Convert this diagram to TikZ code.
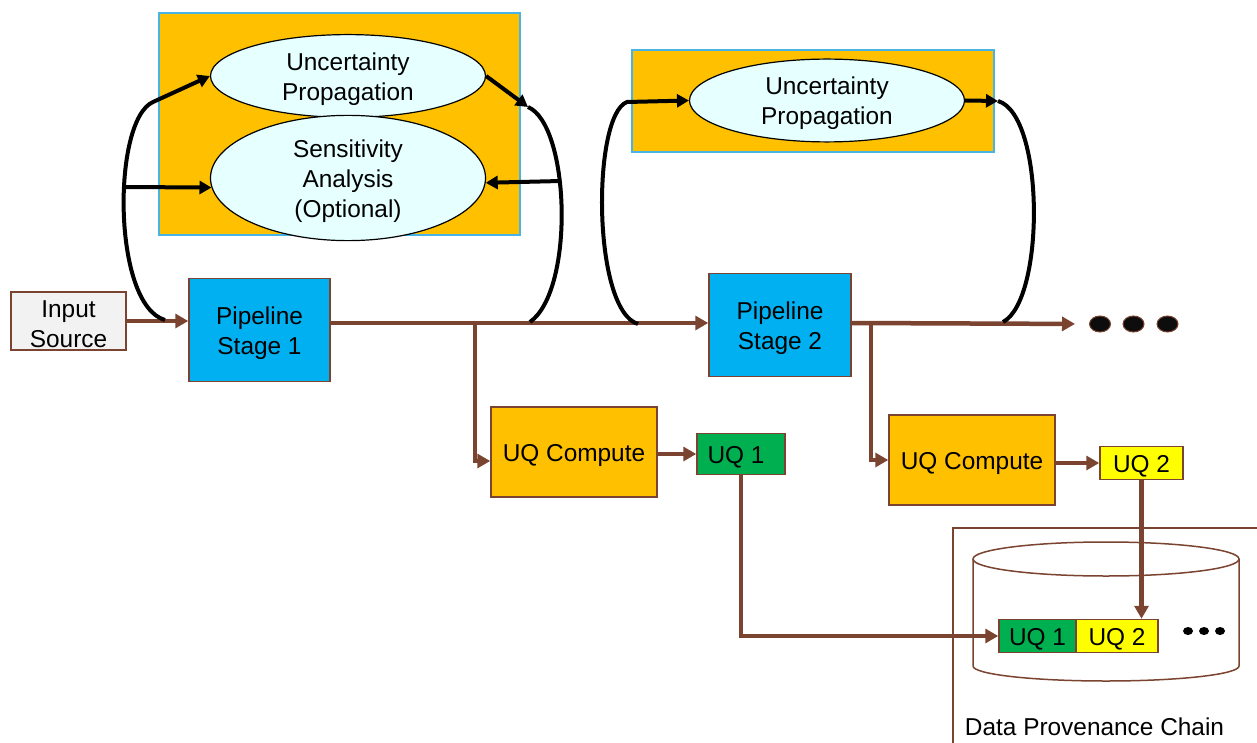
\documentclass[tikz,border=0pt]{standalone}
\usepackage{fontspec}
\setmainfont{Liberation Sans}
\usetikzlibrary{shapes.geometric,arrows.meta,calc}
\definecolor{brn}{RGB}{122,68,48}
\definecolor{gold}{HTML}{FFC000}
\definecolor{sky}{HTML}{00B0F0}
\definecolor{ice}{HTML}{E6FFFF}
\definecolor{leaf}{HTML}{00B050}
\definecolor{lemon}{HTML}{FFFF00}
\definecolor{paper}{HTML}{F2F2F2}
\definecolor{edgeblue}{RGB}{70,180,230}
% extra head room on the first text line of a node
\newcommand{\hdstrut}{\rule{0pt}{23.5pt}}
\begin{document}
\begin{tikzpicture}[x=1pt,y=1pt,
  every node/.style={font=\fontsize{24.4}{30}\selectfont, align=center, inner sep=0pt},
  box/.style={draw=brn, line width=1.5pt, rectangle},
  group/.style={draw=edgeblue, fill=gold, line width=1.5pt, rectangle},
  oval/.style={draw=black, fill=ice, ellipse, line width=1.2pt},
  flow/.style={draw=brn, line width=4.5pt, -{Triangle[length=13pt,width=14pt]}},
  loop/.style={draw=black, line width=4pt},
  loopar/.style={loop, -{Triangle[length=12pt,width=13pt]}},
  thin/.style={draw=brn, line width=1.5pt},
  bigdot/.style={ellipse, fill=black!95, draw=brn, line width=1pt, minimum width=21pt, minimum height=16pt},
  smalldot/.style={ellipse, fill=black, minimum width=10pt, minimum height=8pt},
]
\useasboundingbox (0,0) rectangle (1257,-743);

% grouping panels with the analysis ellipses
\node[group, minimum width=361pt, minimum height=222pt] (G1) at (339.5,-124) {};
\node[group, minimum width=362pt, minimum height=102pt] (G2) at (813,-101) {};
\node[oval, minimum width=275pt, minimum height=74pt] (UP1) at (348,-76) {\hdstrut Uncertainty\\Propagation};
\node[oval, minimum width=275pt, minimum height=96pt] (SA) at (348,-178) {\hdstrut Sensitivity\\Analysis\\(Optional)};
\node[oval, minimum width=275pt, minimum height=75pt] (UP2) at (827,-100.5) {\hdstrut Uncertainty\\Propagation};

% pipeline blocks
\node[box, fill=paper, minimum width=115pt, minimum height=58pt] (IS) at (68.5,-321) {\hdstrut Input\\Source};
\node[box, fill=sky, minimum width=141pt, minimum height=103pt] (P1) at (259.5,-330) {\hdstrut Pipeline\\Stage 1};
\node[box, fill=sky, minimum width=142pt, minimum height=103pt] (P2) at (780,-325) {\hdstrut Pipeline\\Stage 2};
\node[box, fill=gold, minimum width=166pt, minimum height=90pt] (UQC1) at (574,-452) {\hdstrut UQ Compute};
\node[box, fill=leaf, minimum width=88pt, minimum height=41pt] (UQ1) at (741,-454) {\hdstrut UQ 1\hspace{10pt}};
\node[box, fill=gold, minimum width=166pt, minimum height=90pt] (UQC2) at (972,-460) {\hdstrut UQ Compute};
\node[box, fill=lemon, minimum width=83pt, minimum height=33pt] (UQ2) at (1141.5,-463) {\hdstrut UQ 2};

% continuation dots
\node[bigdot] (d1) at (1100,-324) {};
\node[bigdot] (d2) at (1133.5,-324) {};
\node[bigdot] (d3) at (1167.5,-324) {};

% provenance store
\draw[thin] (953,-743) -- (953,-528) -- (1257,-528);
\draw[thin, fill=white] (973,-559) -- (973,-666) arc[start angle=180, end angle=360, x radius=133, y radius=15] -- (1239,-559);
\draw[thin] (1106,-559) ellipse [x radius=133, y radius=17];
\node[box, fill=leaf, minimum width=77pt, minimum height=33pt] (CQ1) at (1037.5,-636) {\hdstrut UQ 1};
\node[box, fill=lemon, minimum width=82pt, minimum height=33pt] (CQ2) at (1117,-636) {\hdstrut UQ 2};
\node[smalldot] (s1) at (1188,-631) {};
\node[smalldot] (s2) at (1204,-631) {};
\node[smalldot] (s3) at (1220,-631) {};
\node (DPC) at (1094.5,-727) {Data Provenance Chain};

% main data flow
\coordinate (m) at (0,-323);
\coordinate (b1) at (475,-323);
\coordinate (b2) at (871,-323);
\draw[flow] (IS.east) -- (IS.east -| P1.west);
\draw[flow] (P1.east |- m) -- (P2.west |- m);
\draw[flow, shorten >=14pt] (P2.east |- m) -- (d1.west);
\draw[flow] (b1) |- ($(UQC1.west)+(0,-9)$);
\draw[flow] (UQ1.west -| UQC1.east) -- (UQ1.west);
\draw[flow] (UQ1.south) |- (CQ1.west);
\draw[flow] (b2) |- (UQC2.west);
\draw[flow] (UQ2.west -| UQC2.east) -- (UQ2.west);
\draw[flow] (UQ2.south) -- (UQ2.south |- CQ2.north);

% feedback loops around stage 1
\coordinate (la) at (165,-320);
\coordinate (lt) at (153,-102);
\coordinate (lj) at (125,-187);
\draw[loopar] (la) .. controls (112,-305) and (112,-120) .. (lt) -- (UP1.west);
\draw[loopar] (lj) -- (SA.184);
\coordinate (ra) at (528,-107);
\coordinate (rb) at (530,-322);
\coordinate (rj) at (561,-181);
\draw[loopar] (UP1.east) -- (ra);
\draw[loop] (ra) .. controls (570,-125) and (575,-290) .. (rb);
\draw[loopar] (rj) -- (SA.358);

% feedback loops around stage 2
\coordinate (lc) at (638,-324);
\coordinate (lu) at (627,-102);
\draw[loopar] (lc) .. controls (592,-310) and (592,-115) .. (lu) -- (UP2.west);
\coordinate (rc) at (998,-101);
\coordinate (rd) at (1003,-322);
\draw[loopar] (UP2.east) -- (rc);
\draw[loop] (rc) .. controls (1045,-115) and (1045,-300) .. (rd);
\end{tikzpicture}
\end{document}
